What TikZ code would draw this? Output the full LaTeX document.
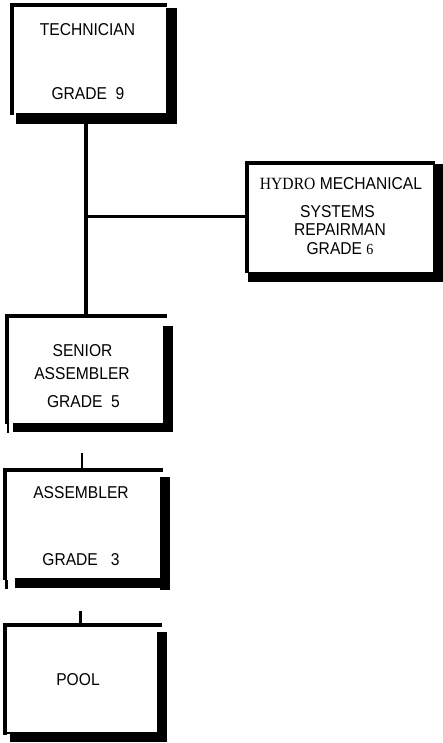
\documentclass[tikz,border=0pt]{standalone}
\usepackage{graphicx}
\usepackage{fontspec}
\setmainfont{Liberation Sans}
\newfontfamily\serifpart{Liberation Serif}
\newcommand\talltext[1]{\scalebox{1}[1.1]{#1}}
\begin{document}
\begin{tikzpicture}[x=1pt,y=-1pt,
  boxarea/.style={inner sep=0pt, outer sep=0pt, draw=none},
  txt/.style={inner sep=0pt, font=\fontsize{15.6}{18}\selectfont},
  conn/.style={line width=3.2pt, black}]
\fill[white] (0,0) rectangle (443,743);
\useasboundingbox (0,0) rectangle (443,743);

% named box areas
\node[boxarea, minimum width=167, minimum height=121] (tech)   at (93.5,63.5) {};
\node[boxarea, minimum width=198, minimum height=121] (hydro)  at (344,221.5) {};
\node[boxarea, minimum width=168, minimum height=118] (senior) at (89,373) {};
\node[boxarea, minimum width=167, minimum height=122] (asm)    at (86.5,529) {};
\node[boxarea, minimum width=164, minimum height=119] (pool)   at (85,682.5) {};

% TECHNICIAN box
\fill (10,3) rectangle (167,7);
\fill (10,3) rectangle (13.5,115);
\fill (166,8) rectangle (177,124);
\fill (16,113) rectangle (177,124);

% HYDRO box
\fill (245,161.5) rectangle (435,165);
\fill (245,161.5) rectangle (248.5,273);
\fill (433,164) rectangle (443,282);
\fill (248,271.5) rectangle (443,281.5);

% SENIOR ASSEMBLER box
\fill (5,314) rectangle (167,317.5);
\fill (5,314) rectangle (9,424);
\fill (7,424) rectangle (9,433);
\fill (162.5,326) rectangle (173,432);
\fill (13,423) rectangle (173,432);

% ASSEMBLER box
\fill (3,468) rectangle (163,471.5);
\fill (3,468) rectangle (7,580);
\fill (5,580) rectangle (7.5,589);
\fill (160,477) rectangle (170,590);
\fill (15,578) rectangle (170,588);

% POOL box
\fill (3,623) rectangle (162,626.5);
\fill (3,623) rectangle (6.5,735);
\fill (3,732) rectangle (11,734);
\fill (157,632) rectangle (167,742);
\fill (10,732) rectangle (167,742);

% texts
\node[txt] (t1) at (87.5,29.5) {\talltext{TECHNICIAN}};
\node[txt] (t2) at (88,94) {\talltext{GRADE\ \ 9}};
\node[txt] (h1) at (341,183.5) {\talltext{{\serifpart HYDRO} MECHANICAL}};
\node[txt] (h2) at (337.5,211.5) {\talltext{SYSTEMS}};
\node[txt] (h3) at (340,230) {\talltext{REPAIRMAN}};
\node[txt] (h4) at (340,248.5) {\talltext{GRADE {\serifpart\fontsize{14}{16}\selectfont 6}}};
\node[txt] (s1) at (82.5,351) {\talltext{SENIOR}};
\node[txt] (s2) at (82,374) {\talltext{ASSEMBLER}};
\node[txt] (s3) at (83.5,401.5) {\talltext{GRADE\ \ 5}};
\node[txt] (a1) at (81,493) {\talltext{ASSEMBLER}};
\node[txt] (a2) at (81,559.5) {\talltext{GRADE\ \ \ 3}};
\node[txt] (p1) at (78,680) {\talltext{POOL}};

% connectors
\coordinate (j) at (86,216.5);
\draw[conn] (tech.south -| j) -- (senior.north -| j);
\draw[conn] (j) -- (j -| hydro.west);
\coordinate (c2) at (82,453);
\draw[conn, line width=2.6pt] (c2) -- (c2 |- asm.north);
\coordinate (c3) at (80.5,611);
\draw[conn, line width=2.6pt] (c3) -- (c3 |- pool.north);
\end{tikzpicture}
\end{document}
